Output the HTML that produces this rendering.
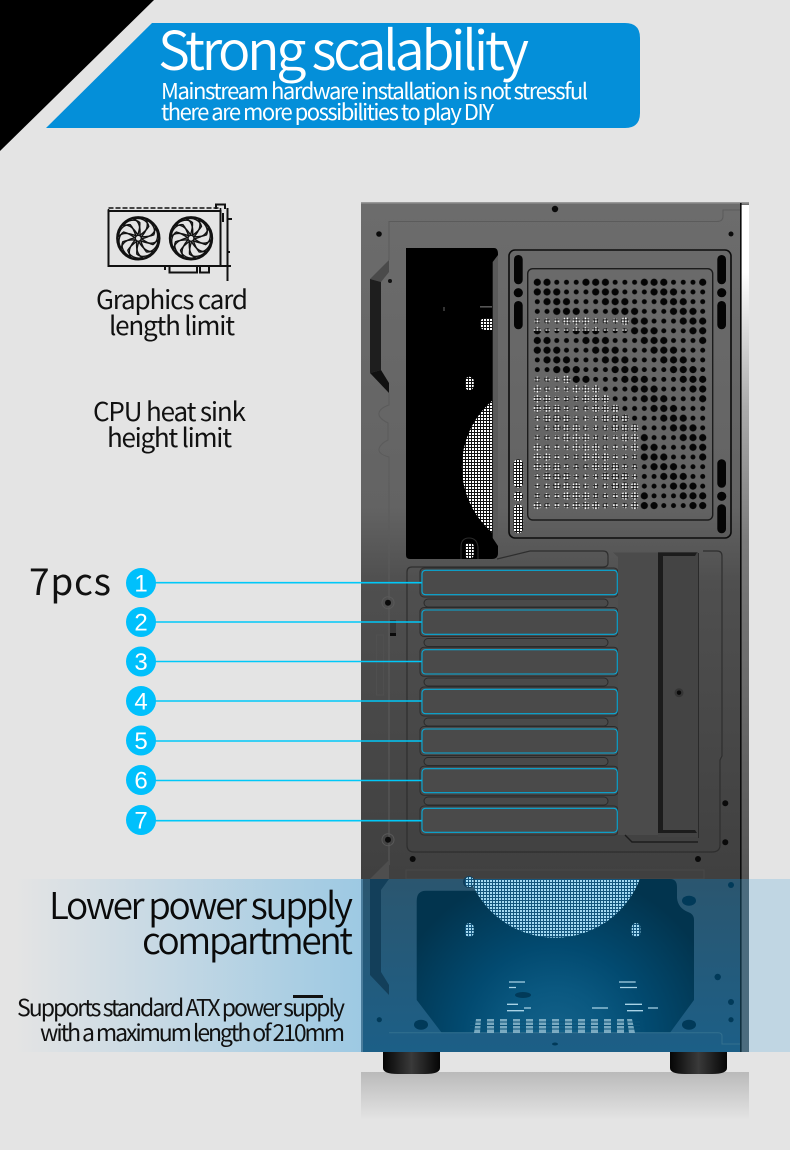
<!DOCTYPE html>
<html><head><meta charset="utf-8"><style>
html,body{margin:0;padding:0;background:#e4e4e4}
svg{display:block}
text{font-family:"Liberation Sans","Noto Sans CJK SC",sans-serif}
.n{font-family:"Noto Sans CJK SC","Liberation Sans",sans-serif;font-weight:400}
.h{font-family:"Noto Sans CJK SC","Liberation Sans",sans-serif;font-weight:350}
</style></head><body>
<svg xmlns="http://www.w3.org/2000/svg" width="790" height="1150" viewBox="0 0 790 1150">
<defs>
<linearGradient id="body" x1="0" y1="202" x2="0" y2="880" gradientUnits="userSpaceOnUse">
<stop offset="0" stop-color="#6c6c6c"/><stop offset=".45" stop-color="#636363"/><stop offset=".56" stop-color="#4f4f4f"/><stop offset="1" stop-color="#404040"/></linearGradient>
<linearGradient id="strip" x1="0" y1="205" x2="0" y2="880" gradientUnits="userSpaceOnUse">
<stop offset="0" stop-color="#fff"/><stop offset=".1" stop-color="#fff"/><stop offset=".3" stop-color="#aaa"/><stop offset=".5" stop-color="#7a7a7a"/><stop offset="1" stop-color="#565656"/></linearGradient>
<linearGradient id="lb" x1="15" y1="0" x2="361" y2="0" gradientUnits="userSpaceOnUse">
<stop offset="0" stop-color="#e4e4e4"/><stop offset="1" stop-color="#9dc9e3"/></linearGradient>
<linearGradient id="lowb" x1="0" y1="879" x2="0" y2="1052" gradientUnits="userSpaceOnUse">
<stop offset="0" stop-color="#2b566f"/><stop offset="1" stop-color="#1c5f87"/></linearGradient>
<radialGradient id="cav" cx="555" cy="1040" r="170" gradientUnits="userSpaceOnUse">
<stop offset="0" stop-color="#15628a"/><stop offset=".3" stop-color="#0a5880"/><stop offset=".55" stop-color="#024a70"/><stop offset="1" stop-color="#02344e"/></radialGradient>
<linearGradient id="refl" x1="0" y1="1072" x2="0" y2="1120" gradientUnits="userSpaceOnUse">
<stop offset="0" stop-color="#bababa"/><stop offset="1" stop-color="#e4e4e4"/></linearGradient>
<linearGradient id="foot" x1="0" y1="0" x2="1" y2="0">
<stop offset="0" stop-color="#050505"/><stop offset=".5" stop-color="#3a3a3a"/><stop offset="1" stop-color="#050505"/></linearGradient>
<pattern id="mesh" patternUnits="userSpaceOnUse" width="3" height="3">
<rect width="3" height="3" fill="#111"/><rect x="1" y="1" width="2" height="2" fill="#fff"/></pattern>
<pattern id="bmesh" patternUnits="userSpaceOnUse" width="3" height="3">
<rect width="3" height="3" fill="#13557c"/><rect x="1" y="1" width="2" height="2" fill="#a4daf2"/></pattern>
<g id="dots">
<circle cx="4.87" cy="4.86" r="3.6"/><circle cx="14.6" cy="4.86" r="3.6"/><circle cx="24.33" cy="4.86" r="2.5"/><circle cx="34.06" cy="4.86" r="2.5"/><circle cx="43.79" cy="4.86" r="2.5"/><circle cx="53.52" cy="4.86" r="3.6"/>
<circle cx="4.87" cy="14.57" r="3.6"/><circle cx="14.6" cy="14.57" r="3.6"/><circle cx="24.33" cy="14.57" r="3.6"/><circle cx="34.06" cy="14.57" r="2.5"/><circle cx="43.79" cy="14.57" r="2.5"/><circle cx="53.52" cy="14.57" r="2.5"/>
<circle cx="4.87" cy="24.28" r="2.5"/><circle cx="14.6" cy="24.28" r="3.6"/><circle cx="24.33" cy="24.28" r="3.6"/><circle cx="34.06" cy="24.28" r="3.6"/><circle cx="43.79" cy="24.28" r="2.5"/><circle cx="53.52" cy="24.28" r="2.5"/>
<circle cx="4.87" cy="33.99" r="2.5"/><circle cx="14.6" cy="33.99" r="2.5"/><circle cx="24.33" cy="33.99" r="3.6"/><circle cx="34.06" cy="33.99" r="3.6"/><circle cx="43.79" cy="33.99" r="3.6"/><circle cx="53.52" cy="33.99" r="2.5"/>
<circle cx="4.87" cy="43.7" r="2.5"/><circle cx="14.6" cy="43.7" r="2.5"/><circle cx="24.33" cy="43.7" r="2.5"/><circle cx="34.06" cy="43.7" r="3.6"/><circle cx="43.79" cy="43.7" r="3.6"/><circle cx="53.52" cy="43.7" r="3.6"/>
<circle cx="4.87" cy="53.41" r="3.6"/><circle cx="14.6" cy="53.41" r="2.5"/><circle cx="24.33" cy="53.41" r="2.5"/><circle cx="34.06" cy="53.41" r="2.5"/><circle cx="43.79" cy="53.41" r="3.6"/><circle cx="53.52" cy="53.41" r="3.6"/>
</g>
<pattern id="dk" patternUnits="userSpaceOnUse" x="532.43" y="277.4" width="58.38" height="58.26"><use href="#dots" fill="#050505"/></pattern>
<pattern id="lit" patternUnits="userSpaceOnUse" x="532.43" y="277.4" width="58.38" height="58.26"><use href="#dots" fill="url(#mesh)" stroke="url(#mesh)" stroke-width=".5"/></pattern>
<clipPath id="fanU"><rect x="406" y="400" width="86.7" height="160"/></clipPath>
<clipPath id="fanL"><rect x="440" y="879" width="230" height="70"/></clipPath>
<path id="bl" d="M3,-1.5C7,-6 11,-12 8,-18C14,-16 18,-9 15.5,-3.5C12,-2 7,-1.5 3,-1.5Z" fill="none" stroke="#111" stroke-width="1.4"/>
<g id="fan">
<circle r="21" fill="none" stroke="#111" stroke-width="2.4"/>
<use href="#bl"/><use href="#bl" transform="rotate(36)"/><use href="#bl" transform="rotate(72)"/><use href="#bl" transform="rotate(108)"/><use href="#bl" transform="rotate(144)"/><use href="#bl" transform="rotate(180)"/><use href="#bl" transform="rotate(216)"/><use href="#bl" transform="rotate(252)"/><use href="#bl" transform="rotate(288)"/><use href="#bl" transform="rotate(324)"/>
<circle r="3" fill="#e4e4e4" stroke="#111" stroke-width="1.4"/>
</g>
</defs>

<rect width="790" height="1150" fill="#e4e4e4"/>
<polygon points="0,0 154,0 0,151" fill="#000"/>
<path d="M152,23H625Q640,23 640,38V113Q640,128 625,128H46Z" fill="#048fd9"/>
<text class="h" x="158" y="70" font-size="54" fill="#fff" textLength="371">Strong scalability</text>
<text class="n" x="161" y="99" font-size="22" fill="#fff" textLength="427">Mainstream hardware installation is not stressful</text>
<text class="n" x="161" y="120" font-size="22" fill="#fff" textLength="333">there are more possibilities to play DIY</text>

<!-- GPU icon -->
<g fill="none" stroke="#111" stroke-width="2">
<rect x="108.5" y="211" width="112" height="55"/>
<rect x="108.5" y="208" width="112" height="3" stroke-width="1.6" stroke-dasharray="5 2"/>
<path d="M216,209V204.5H225V209M227.5,208V281M220,266H231M227.5,219H232M223,213V222M227.5,252H230M169.5,266V272.5H197V266M200,266V272.5H209V266M165,266V270"/>
</g>
<use href="#fan" x="138.3" y="238.3"/>
<use href="#fan" x="191" y="238.3"/>

<text class="n" x="96" y="309" font-size="26" fill="#111" textLength="152">Graphics card</text>
<text class="n" x="109" y="335" font-size="26" fill="#111" textLength="126">length limit</text>
<text class="n" x="93" y="421" font-size="26" fill="#111" textLength="153">CPU heat sink</text>
<text class="n" x="107" y="447" font-size="26" fill="#111" textLength="125">height limit</text>
<text class="n" x="29" y="595" font-size="37" fill="#111" textLength="82">7pcs</text>

<!-- Case -->
<rect x="361" y="202" width="388" height="678" fill="url(#body)"/>
<rect x="361" y="202" width="388" height="1.5" fill="#999"/>
<rect x="741.5" y="205" width="7.5" height="675" fill="url(#strip)"/>
<rect x="740" y="203" width="1.6" height="677" fill="#0c0c0c"/>
<g fill="none" stroke="#5b5b5b" stroke-width="1">
<path d="M389,221.5H717Q723,221.5 723,216V210H740"/>
<path d="M389,221V260M389,393V405Q380,408 379,413T388,423V440Q380,444 379,449T389,457V865"/>
</g>
<g fill="#0b0b0b"><circle cx="555" cy="209" r="3.2"/><circle cx="379" cy="234" r="2.8"/><circle cx="731" cy="234" r="2.5"/></g>
<!-- handle -->
<polygon points="389,260 370,279 381,282 389,272" fill="#4a4a4a"/>
<polygon points="370,279 381,282 381,370 370,373" fill="#1e1e1e"/>
<polygon points="370,373 381,370 389,383 389,393" fill="#111"/>
<circle cx="390" cy="281" r="2" fill="#111"/>
<!-- left black window -->
<path d="M406,248H494Q498,248 498,254V553Q498,559 492,559H410Q406,559 406,555Z" fill="#000"/>
<path d="M492.7,262L498,255V546L492.7,538Z" fill="#5a5a5a"/>
<circle cx="548.9" cy="466.7" r="87" fill="url(#mesh)" clip-path="url(#fanU)"/>
<path d="M480,324Q480,318 486,318H492.7V330H486Q480,330 480,324Z" fill="url(#mesh)"/>
<rect x="465" y="376.7" width="8.7" height="13.5" rx="4.3" fill="url(#mesh)"/>
<rect x="465" y="543" width="8.7" height="15" rx="3" fill="url(#mesh)"/>
<path d="M461,559V547Q461,538 469,538T478,547V559" fill="none" stroke="#2b2b2b"/>
<rect x="443.5" y="307" width="1" height="4" fill="#666"/>
<rect x="480" y="306.5" width="12" height=".8" fill="#aaa"/>
<!-- vent panel -->
<rect x="509" y="250" width="222" height="288" rx="6" fill="none" stroke="#0c0c0c" stroke-width="1.6"/>
<rect x="527.7" y="268.7" width="185" height="251.3" rx="5" fill="none" stroke="#1c1c1c" stroke-width="1.4"/>
<g fill="#050505">
<rect x="514" y="255" width="8.7" height="29.3" rx="4.3"/><circle cx="518.3" cy="292.7" r="4.6"/><rect x="514" y="301" width="8.7" height="28.3" rx="4.3"/>
<rect x="717.3" y="255" width="8.7" height="29.3" rx="4.3"/><circle cx="721.7" cy="292.7" r="4.6"/><rect x="717.3" y="301" width="8.7" height="28.3" rx="4.3"/>
<rect x="717.3" y="459.3" width="8.7" height="28.4" rx="4.3"/><circle cx="721.7" cy="496.3" r="4.6"/><rect x="717.3" y="504.3" width="8.7" height="29" rx="4.3"/>
</g>
<g fill="url(#mesh)">
<rect x="513.5" y="459.3" width="9.6" height="28.4" rx="4.8"/><circle cx="518.3" cy="496.3" r="4.8"/><rect x="513.5" y="504.3" width="9.6" height="29" rx="4.8"/>
</g>
<rect x="532.43" y="277.4" width="175.2" height="233" fill="url(#dk)"/>
<g fill="url(#lit)">
<rect x="532.43" y="315.7" width="97.3" height="15"/>
<rect x="532.43" y="374" width="38.9" height="10.2"/>
<rect x="532.43" y="384.2" width="68.1" height="9.7"/>
<rect x="532.43" y="393.9" width="77.9" height="9.7"/>
<rect x="532.43" y="403.6" width="87.6" height="9.7"/>
<rect x="532.43" y="413.3" width="97.3" height="9.7"/>
<rect x="532.43" y="423" width="107" height="87.5"/>
</g>

<!-- PCI panel -->
<g fill="none" stroke="#2e2e2e" stroke-width="1.2">
<path d="M497,559L530,551H603Q608,551 608,556V563Q608,567 603,567H412Q407,567 407,572V845Q407,852 414,852H712Q720,852 720,845V760L722,756V556Q722,551 717,551H703"/>
</g>
<g fill="#4a4a4a" stroke="#2c2c2c" stroke-width="1">
<rect x="420" y="568" width="198" height="29" rx="4"/>
<rect x="420" y="607.5" width="198" height="29" rx="4"/>
<rect x="420" y="647.3" width="198" height="29" rx="4"/>
<rect x="420" y="687" width="198" height="29" rx="4"/>
<rect x="420" y="726.5" width="198" height="29" rx="4"/>
<rect x="420" y="766.2" width="198" height="29" rx="4"/>
<rect x="420" y="806" width="198" height="29" rx="4"/>
</g>
<g fill="#4a4a4a" stroke="#2a2a2a" stroke-width="1">
<rect x="424" y="599" width="184" height="8" rx="4"/>
<rect x="424" y="638.5" width="184" height="8" rx="4"/>
<rect x="424" y="678" width="184" height="8" rx="4"/>
<rect x="424" y="718" width="184" height="8" rx="4"/>
<rect x="424" y="757.5" width="184" height="8" rx="4"/>
<rect x="424" y="797" width="184" height="8" rx="4"/>
</g>
<!-- bracket -->
<rect x="658" y="552" width="40" height="285" fill="#444"/>
<path d="M613,552.5H658V835H618V557Z" fill="#4b4b4b"/>
<path d="M658,552.5H697L695,556H663V830H695L697,833H658Z" fill="#1c1c1c"/>
<rect x="698" y="553" width="1" height="285" fill="#2a2a2a"/>
<path d="M625,835L632,842H698" fill="none" stroke="#1c1c1c" stroke-width="1.4"/>
<circle cx="679" cy="692.7" r="4.5" fill="#353535"/><circle cx="679" cy="692.7" r="2.2" fill="#0a0a0a"/>
<g fill="#0a0a0a">
<circle cx="388" cy="602.7" r="3"/><circle cx="388" cy="839.7" r="3"/><circle cx="725.3" cy="803.3" r="3"/><circle cx="725.3" cy="842.3" r="3"/><circle cx="412.7" cy="859" r="3"/><circle cx="698" cy="859" r="3"/>
<rect x="390" y="632" width="6" height="4"/>
</g>
<rect x="390" y="620" width="6" height="13" fill="#383838"/>
<rect x="376.5" y="635" width="7" height="60" fill="none" stroke="#515151" stroke-width=".8"/>
<g fill="none" stroke="#5a5a5a"><circle cx="388" cy="602.7" r="6"/><circle cx="388" cy="839.7" r="6"/></g>
<polygon points="389,860 370,879 389,879" fill="#4e4e4e"/>
<rect x="406" y="870" width="298" height="9" fill="none" stroke="#4a4a4a" stroke-width=".8"/>

<!-- left / right blue band -->
<rect x="15" y="879" width="346" height="173" fill="url(#lb)"/>
<rect x="749" y="879" width="41" height="173" fill="#c0d6e3"/>

<!-- lower compartment -->
<rect x="361" y="879" width="388" height="173" fill="url(#lowb)"/>
<rect x="361" y="879" width="2" height="173" fill="#4b7d9c"/>
<rect x="741" y="879" width="8" height="173" fill="#4c6c7e"/>
<rect x="740" y="879" width="1.6" height="173" fill="#10303f"/>
<path d="M426,890.7H475V879H670Q677,879 677,887V898Q678,908 688,912Q694,914 694,920V1000L670,1032.7H441.7L416.7,1000V901Q416.7,890.7 426,890.7Z" fill="url(#cav)"/>
<polygon points="389,879 370,879 370,975 389,995 389,985 381,972 381,890" fill="#133f5a"/>
<circle cx="555" cy="847" r="90.7" fill="url(#bmesh)" clip-path="url(#fanL)"/>
<circle cx="469" cy="882" r="6" fill="#123f5c"/>
<rect x="465" y="877" width="8.7" height="10" rx="4" fill="url(#bmesh)"/>
<rect x="465" y="923" width="8.7" height="14" rx="4.3" fill="url(#bmesh)"/>
<rect x="631.7" y="923" width="8.7" height="14" rx="4.3" fill="url(#bmesh)"/>
<g fill="#013a59">
<ellipse cx="689" cy="900.7" rx="7" ry="5"/><ellipse cx="421" cy="1024.7" rx="7" ry="5"/><ellipse cx="689" cy="1024.7" rx="7" ry="5"/>
<circle cx="731" cy="885" r="3"/><circle cx="717.7" cy="977" r="3.2"/><circle cx="731" cy="1002" r="3"/><circle cx="731" cy="1019.7" r="2.6"/><circle cx="379.3" cy="1019.7" r="2.6"/>
<ellipse cx="523" cy="995" rx="8" ry="3"/>
</g>
<path d="M389,1032.7H718Q722,1032.7 722,1036V1044H740" fill="none" stroke="#33708f" stroke-width="1"/>
<ellipse cx="555" cy="1044" rx="3" ry="1.5" fill="#013a59"/>
<g stroke="#a9d3e6" stroke-width="1.3">
<path d="M509,982H525M509,987.5H516M619,982H635.7M620,987.5H637M507,1004.3H518M507,1010.7H524M524,1008H531M592,1008H608M625,1004.3H642M627,1010.7H643M648,1008H658"/>
</g>
<g fill="#8db9cd" opacity=".85">
<polygon points="476,1019 481,1019 480,1033 474,1033"/><rect x="487" y="1019" width="7" height="14"/><rect x="500" y="1019" width="7" height="14"/><rect x="513" y="1019" width="7" height="14"/><rect x="526" y="1019" width="7" height="14"/><rect x="539" y="1019" width="7" height="14"/><rect x="552" y="1019" width="7" height="14"/><rect x="565" y="1019" width="7" height="14"/><rect x="578" y="1019" width="7" height="14"/><rect x="591" y="1019" width="7" height="14"/><rect x="604" y="1019" width="7" height="14"/><rect x="617" y="1019" width="7" height="14"/><polygon points="627,1019 632,1019 635,1033 629,1033"/>
</g>
<g stroke="#0d5378" stroke-width="1"><path d="M470,1022H640M470,1025.5H640M470,1029H640"/></g>

<!-- feet and reflection -->
<rect x="361" y="1072" width="388" height="48" fill="url(#refl)"/>
<path d="M383,1052H440V1068Q440,1074 425,1074H398Q383,1074 383,1068Z" fill="url(#foot)"/>
<path d="M670,1052H727V1068Q727,1074 712,1074H685Q670,1074 670,1068Z" fill="url(#foot)"/>

<!-- slot callouts -->
<g stroke="#00c8f8" stroke-width="1.6" fill="none">
<path d="M141,582.7H422M141,622H422M141,661.5H422M141,701H422M141,741H422M141,780.5H422M141,820.7H422"/>
</g>
<g fill="none" stroke="#06aad8" stroke-width="1.1">
<rect x="422" y="570.3" width="195.3" height="24.4" rx="3.5"/>
<rect x="422" y="610" width="195.3" height="24.3" rx="3.5"/>
<rect x="422" y="649.7" width="195.3" height="24.3" rx="3.5"/>
<rect x="422" y="689.3" width="195.3" height="24.4" rx="3.5"/>
<rect x="422" y="729" width="195.3" height="24" rx="3.5"/>
<rect x="422" y="768.7" width="195.3" height="24" rx="3.5"/>
<rect x="422" y="808.3" width="195.3" height="24" rx="3.5"/>
</g>
<g fill="#00c0fc">
<circle cx="141" cy="583" r="15"/><circle cx="141" cy="622" r="15"/><circle cx="141" cy="661.5" r="15"/><circle cx="141" cy="701" r="15"/><circle cx="141" cy="740.5" r="15"/><circle cx="141" cy="780" r="15"/><circle cx="141" cy="820" r="15"/>
</g>
<g fill="#fff" font-size="24" text-anchor="middle">
<text x="141" y="591.5">1</text><text x="141" y="630.5">2</text><text x="141" y="670">3</text><text x="141" y="709.5">4</text><text x="141" y="749">5</text><text x="141" y="788.5">6</text><text x="141" y="828.5">7</text>
</g>

<!-- power supply text -->
<text class="h" x="49" y="919" font-size="37" fill="#0a0a0a" textLength="304">Lower power supply</text>
<text class="h" x="142" y="954" font-size="37" fill="#0a0a0a" textLength="211">compartment</text>
<rect x="293" y="995" width="30" height="3" fill="#111"/>
<text class="n" x="17" y="1016" font-size="23" fill="#111" textLength="328">Supports standard ATX power supply</text>
<text class="n" x="40" y="1041" font-size="23" fill="#111" textLength="305">with a maximum length of 210mm</text>
</svg>
</body></html>
